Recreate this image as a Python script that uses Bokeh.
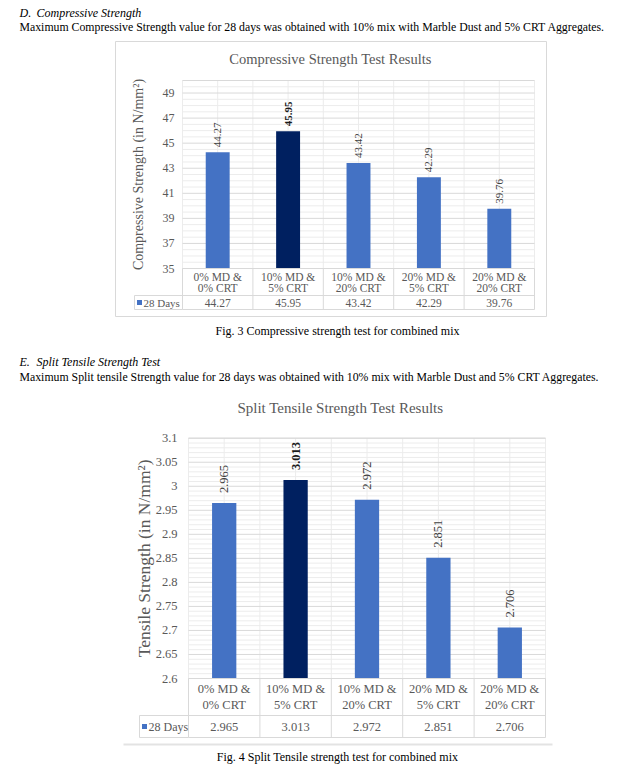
import math
from bokeh.plotting import figure
from bokeh.models import Range1d
from bokeh.core.properties import value
from bokeh.embed import file_html
from bokeh.resources import INLINE

# ---------------- data ----------------
categories = ["0% MD &\n0% CRT", "10% MD &\n5% CRT", "10% MD &\n20% CRT",
              "20% MD &\n5% CRT", "20% MD &\n20% CRT"]
series_name = "28 Days"
compressive = [44.27, 45.95, 43.42, 42.29, 39.76]
tensile = [2.965, 3.013, 2.972, 2.851, 2.706]

comp_ticks = [35, 37, 39, 41, 43, 45, 47, 49]
comp_tick_labels = ["35", "37", "39", "41", "43", "45", "47", "49"]
comp_min, comp_max = 35, 50

tens_ticks = [2.6, 2.65, 2.7, 2.75, 2.8, 2.85, 2.9, 2.95, 3.0, 3.05, 3.1]
tens_tick_labels = ["2.6", "2.65", "2.7", "2.75", "2.8", "2.85", "2.9", "2.95", "3", "3.05", "3.1"]
tens_min, tens_max = 2.6, 3.1

title1 = "Compressive Strength Test Results"
ylabel1 = "Compressive Strength (in N/mm²)"
caption1 = "Fig. 3 Compressive strength test for combined mix"
title2 = "Split Tensile Strength Test Results"
ylabel2 = "Tensile Strength (in N/mm²)"
caption2 = "Fig. 4 Split Tensile strength test for combined mix"

head_d_num, head_d = "D.", "Compressive Strength"
body_d = "Maximum Compressive Strength value for 28 days was obtained with 10% mix with Marble Dust and 5% CRT Aggregates."
head_e_num, head_e = "E.", "Split Tensile Strength Test"
body_e = "Maximum Split tensile Strength value for 28 days was obtained with 10% mix with Marble Dust and 5% CRT Aggregates."

# ---------------- style ----------------
FONT = value("Liberation Serif")
BAR = "#4472C4"
BAR_HI = "#002060"
GREY_TXT = "#595959"
LBL_TXT = "#404040"
GRID = "#D9D9D9"
GRID_MINOR = "#ECECEC"

W, H = 631, 774
X0, X1, Y0, Y1 = 0, W, 0, H  # page pixel frame

p = figure(width=W, height=H, x_range=Range1d(X0, X1), y_range=Range1d(Y1, Y0),
           output_backend="svg", toolbar_location=None, min_border=0,
           x_axis_location=None, y_axis_location=None, outline_line_color=None)
p.grid.visible = False


def lin_range(v0, p0, v1, p1, p_start, p_end):
    s = (v1 - v0) / (p1 - p0)
    return Range1d(start=v0 + (p_start - p0) * s, end=v0 + (p_end - p0) * s)


def txt(x, y, t, size, color="black", align="left", base="middle", style="normal", angle=0, **kw):
    p.text(x=[x], y=[y], text=[t], text_font=FONT, text_font_size=size, text_color=color,
           text_align=align, text_baseline=base, text_font_style=style, angle=angle, **kw)


def chart(name, vals, fmt, ticks, tick_labels, vmin, vmax, minor_step,
          px_left, px_right, py_top, py_bottom, row1_bottom, row2_bottom, legend_left,
          title, title_xy, title_size, ylabel, ylabel_x, ylabel_size,
          tick_size, tick_gap, cat_size, val_size, leg_size, dl_size, dl_gap, cat_line_gap):
    n = len(vals)
    xr, yr = name + "x", name + "y"
    p.extra_x_ranges[xr] = lin_range(0, px_left, n, px_right, X0, X1)
    p.extra_y_ranges[yr] = lin_range(vmin, py_bottom, vmax, py_top, Y1, Y0)
    R = dict(x_range_name=xr, y_range_name=yr)

    # minor grid
    k = 0
    minors = []
    while True:
        v = round(vmin + k * minor_step, 6)
        if v > vmax + 1e-9:
            break
        if all(abs(v - t) > 1e-6 for t in ticks):
            minors.append(v)
        k += 1
    p.segment(x0=[0] * len(minors), x1=[n] * len(minors), y0=minors, y1=minors,
              line_color=GRID_MINOR, line_width=1, **R)
    vx = [i * 0.5 for i in range(2 * n + 1)]
    p.segment(x0=vx, x1=vx, y0=[vmin] * len(vx), y1=[vmax] * len(vx),
              line_color=GRID_MINOR, line_width=1, **R)
    gl = ticks + [vmax]
    p.segment(x0=[0] * len(gl), x1=[n] * len(gl), y0=gl, y1=gl, line_color=GRID, line_width=1, **R)

    # bars
    hi = vals.index(max(vals))
    colors = [BAR_HI if i == hi else BAR for i in range(n)]
    xs = [i + 0.5 for i in range(n)]
    p.vbar(x=xs, top=vals, bottom=vmin, width=0.34, fill_color=colors, line_color=None, **R)

    # data labels
    for i, v in enumerate(vals):
        p.text(x=[xs[i]], y=[v], text=[fmt.format(v)], angle=math.pi / 2, y_offset=-dl_gap,
               text_font=FONT, text_font_size=dl_size,
               text_color=("#1a1a1a" if i == hi else LBL_TXT),
               text_font_style=("bold" if i == hi else "normal"),
               text_align="left", text_baseline="middle", **R)

    # y tick labels
    p.text(x=[0] * len(ticks), y=ticks, text=tick_labels, x_offset=-tick_gap, text_font=FONT,
           text_font_size=tick_size, text_color=GREY_TXT, text_align="right",
           text_baseline="middle", **R)

    # table (x in chart units, y in page pixels)
    bx = list(range(n + 1))
    p.segment(x0=bx, x1=bx, y0=[py_bottom] * len(bx), y1=[row2_bottom] * len(bx),
              line_color=GRID, line_width=1, x_range_name=xr)
    p.segment(x0=[0, 0], x1=[n, n], y0=[py_bottom, row1_bottom], y1=[py_bottom, row1_bottom],
              line_color=GRID, line_width=1.2, x_range_name=xr)
    p.segment(x0=[legend_left, legend_left, legend_left], x1=[px_left, px_left, legend_left],
              y0=[row1_bottom, row2_bottom, row1_bottom], y1=[row1_bottom, row2_bottom, row2_bottom],
              line_color=GRID, line_width=1)
    p.segment(x0=[0], x1=[n], y0=[row2_bottom], y1=[row2_bottom], line_color=GRID, line_width=1,
              x_range_name=xr)

    cy = (py_bottom + row1_bottom) / 2
    l1 = [c.split("\n")[0] for c in categories]
    l2 = [c.split("\n")[1] for c in categories]
    p.text(x=xs, y=[cy - cat_line_gap / 2] * n, text=l1, text_font=FONT, text_font_size=cat_size,
           text_color=GREY_TXT, text_align="center", text_baseline="middle", x_range_name=xr)
    p.text(x=xs, y=[cy + cat_line_gap / 2] * n, text=l2, text_font=FONT, text_font_size=cat_size,
           text_color=GREY_TXT, text_align="center", text_baseline="middle", x_range_name=xr)
    vy = (row1_bottom + row2_bottom) / 2
    p.text(x=xs, y=[vy] * n, text=[fmt.format(v) for v in vals], text_font=FONT,
           text_font_size=val_size, text_color=GREY_TXT, text_align="center",
           text_baseline="middle", x_range_name=xr)
    p.rect(x=[legend_left + 5], y=[vy], width=5, height=5, fill_color=BAR, line_color=None)
    txt(legend_left + 9, vy, series_name, leg_size, GREY_TXT)

    # titles
    txt(title_xy[0], title_xy[1], title, title_size, GREY_TXT, align="center")
    txt(ylabel_x, (py_top + py_bottom) / 2, ylabel, ylabel_size, GREY_TXT, align="center",
        angle=math.pi / 2)


# ---- section D ----
txt(19, 12, head_d_num, "12px", style="italic")
txt(36, 12, head_d, "12px", style="italic")
txt(19, 26, body_d, "11.8px")

# chart 1 border
p.quad(left=[115], right=[546], top=[41], bottom=[316], fill_color="white", line_color=GRID, line_width=1)

chart("c1", compressive, "{:.2f}", comp_ticks, comp_tick_labels, comp_min, comp_max, 0.5,
      182, 534, 80, 268, 295, 309, 134,
      title1, (330, 58), "14.5px", ylabel1, 138, "14px",
      "12px", 8, "11.5px", "11.5px", "11px", "11px", 5, 11)

txt(337, 330, caption1, "12px", align="center")

# ---- section E ----
txt(19, 361, head_e_num, "12px", style="italic")
txt(36, 361, head_e, "12px", style="italic")
txt(19, 376, body_e, "11.8px")

chart("c2", tensile, "{:.3f}", tens_ticks, tens_tick_labels, tens_min, tens_max, 0.01,
      188, 545, 437.7, 678, 715, 737, 139,
      title2, (340, 407), "15px", ylabel2, 143, "17.5px",
      "12.5px", 11, "12.5px", "12.5px", "12px", "12.5px", 10, 16)

p.segment(x0=[123], x1=[552], y0=[744], y1=[744], line_color="#E3E3E3", line_width=2)
txt(337, 756, caption2, "12px", align="center")

open("out.html", "w").write(file_html(p, INLINE))
